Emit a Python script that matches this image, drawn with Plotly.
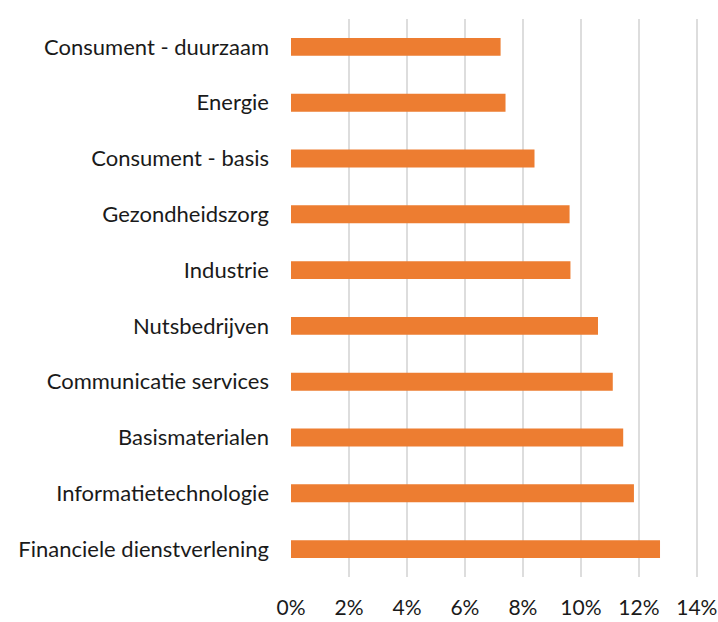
import plotly.graph_objects as go

categories = [
    "Consument - duurzaam",
    "Energie",
    "Consument - basis",
    "Gezondheidszorg",
    "Industrie",
    "Nutsbedrijven",
    "Communicatie services",
    "Basismaterialen",
    "Informatietechnologie",
    "Financiele dienstverlening",
]
values = [0.0723, 0.0740, 0.0840, 0.0961, 0.0964, 0.1059, 0.1110, 0.1146, 0.1183, 0.1273]
tick_vals = [0, 0.02, 0.04, 0.06, 0.08, 0.10, 0.12, 0.14]
tick_text = ["0%", "2%", "4%", "6%", "8%", "10%", "12%", "14%"]

fig = go.Figure(go.Bar(
    x=values,
    y=categories,
    orientation="h",
    marker=dict(color="#ED7D31", line=dict(width=0)),
    width=0.32,
))

fig.update_layout(
    width=718,
    height=622,
    margin=dict(l=291, r=20, t=19, b=45),
    plot_bgcolor="white",
    paper_bgcolor="white",
    font=dict(family="Lato", size=22, color="#1a1a1a"),
    showlegend=False,
)
fig.update_xaxes(
    range=[0, 0.1404],
    tickvals=tick_vals,
    ticktext=tick_text,
    tickfont=dict(size=21),
    ticklabeloverflow="allow",
    showgrid=True,
    gridcolor="#DDDDDD",
    gridwidth=1.5,
    zeroline=False,
    showline=False,
    ticks="",
    ticklabelstandoff=16,
    automargin=False,
)
fig.update_yaxes(
    categoryorder="array",
    categoryarray=categories[::-1],
    showgrid=False,
    zeroline=False,
    showline=False,
    ticks="",
    ticklabelstandoff=21,
    automargin=False,
)
fig.write_html(
    "out.html",
    config={"displayModeBar": False},
    post_script="document.body.style.margin='0';document.body.style.overflow='hidden';",
)
